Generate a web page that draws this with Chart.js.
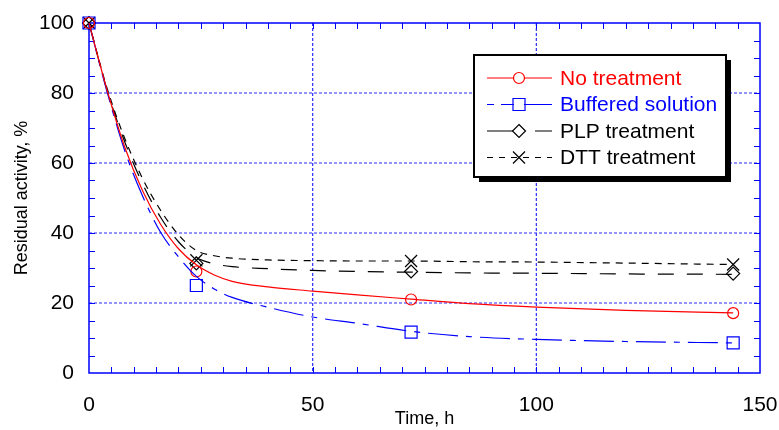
<!DOCTYPE html>
<html lang="en">
<head>
    <meta charset="UTF-8">
    <title>Residual activity vs time</title>
    <style>
        body {
            margin: 0;
            background: #fff;
        }
        #wrap {
            width: 779px;
            height: 430px;
        }
    </style>
</head>
<body>
    <div id="wrap"><canvas id="activityChart" width="779" height="430"></canvas></div>

    <script src="https://cdn.jsdelivr.net/npm/chart.js"></script>
    <script>
        // Measured points
        const seriesNames = ['No treatment', 'Buffered solution', 'PLP treatment', 'DTT treatment'];
        const sampleTimes = [0, 24, 72, 144];
        const noTreatment = [100, 29, 21, 17.1];
        const buffered = [100, 25, 11.7, 8.6];
        const plpTreatment = [100, 31.3, 29, 28.4];
        const dttTreatment = [100, 32.2, 32, 31];

        // Fitted curves
        const fitTimes = [0, 4, 8, 12, 16, 20, 24, 28, 32, 40, 50, 60, 72, 85, 100, 120, 144];
        const noTreatmentFit = [100, 81, 64.5, 52, 42.5, 35.5, 30.9, 28, 26.2, 24.6, 23.4, 22.3, 21.1, 19.8, 18.8, 17.9, 17.2];
        const bufferedFit = [100, 80.5, 63.5, 50.5, 40.2, 33.2, 27.6, 24, 21.6, 18.8, 16, 14.2, 11.9, 10.4, 9.6, 9.0, 8.6];
        const plpFit = [100, 81, 66, 54, 44.5, 37.5, 33, 31.2, 30.4, 29.8, 29.3, 29, 28.8, 28.6, 28.5, 28.3, 28.2];
        const dttFit = [100, 81.5, 67, 55.5, 46.5, 39.5, 35, 33.5, 32.8, 32.3, 32.1, 32, 32, 31.8, 31.7, 31.4, 31.0];

        // Axis ticks
        const xTicks = [0, 50, 100, 150];
        const yTicks = [0, 20, 40, 60, 80, 100];

        const toXY = (xs, ys) => xs.map((x, i) => ({ x: x, y: ys[i] }));

        // legendDash: how the short sample in the legend box is broken up
        const styles = [
            { color: '#ff0000', dash: [], legendDash: [], marker: 'circle', radius: 5.5 },
            { color: '#0000ff', dash: [30, 8, 6, 8], legendDash: [7, 7, 60], marker: 'rect', radius: 8.5 },
            { color: '#000000', dash: [16, 13], legendDash: [26, 22, 20], marker: 'rectRot', radius: 6.5 },
            { color: '#000000', dash: [7, 6], legendDash: [6, 6], marker: 'crossRot', radius: 8.5 }
        ];
        const pointSets = [noTreatment, buffered, plpTreatment, dttTreatment];
        const fitSets = [noTreatmentFit, bufferedFit, plpFit, dttFit];

        const datasets = [];
        fitSets.forEach((fit, i) => {
            datasets.push({
                label: seriesNames[i] + ' fit',
                data: toXY(fitTimes, fit),
                showLine: true,
                borderColor: styles[i].color,
                borderWidth: 1.2,
                borderDash: styles[i].dash,
                pointRadius: 0,
                cubicInterpolationMode: 'monotone',
                clip: false
            });
        });
        pointSets.forEach((pts, i) => {
            datasets.push({
                label: seriesNames[i],
                data: toXY(sampleTimes, pts),
                showLine: false,
                pointStyle: styles[i].marker,
                pointRadius: styles[i].radius,
                pointBorderColor: styles[i].color,
                pointBackgroundColor: 'rgba(0,0,0,0)',
                pointBorderWidth: 1.2,
                clip: false
            });
        });

        // dotted grid, blue frame and inward ticks
        const plotFrame = {
            id: 'plotFrame',
            beforeDatasetsDraw(chart) {
                const ctx = chart.ctx;
                const a = chart.chartArea;
                const xs = chart.scales.x;
                const ys = chart.scales.y;
                ctx.save();
                ctx.strokeStyle = '#2a2aff';
                ctx.lineWidth = 1.2;
                ctx.setLineDash([3, 2]);
                xTicks.slice(1, -1).forEach(v => {
                    const px = xs.getPixelForValue(v);
                    ctx.beginPath();
                    ctx.moveTo(px, a.top);
                    ctx.lineTo(px, a.bottom);
                    ctx.stroke();
                });
                yTicks.slice(1, -1).forEach(v => {
                    const py = ys.getPixelForValue(v);
                    ctx.beginPath();
                    ctx.moveTo(a.left, py);
                    ctx.lineTo(a.right, py);
                    ctx.stroke();
                });
                ctx.setLineDash([]);
                ctx.strokeStyle = '#0000ff';
                ctx.lineWidth = 1.5;
                ctx.strokeRect(a.left, a.top, a.right - a.left, a.bottom - a.top);
                ctx.lineWidth = 1;
                const len = 6;
                for (let v = 5; v < 150; v += 5) {
                    const px = Math.round(xs.getPixelForValue(v)) + 0.5;
                    ctx.beginPath();
                    ctx.moveTo(px, a.bottom);
                    ctx.lineTo(px, a.bottom - len);
                    ctx.moveTo(px, a.top);
                    ctx.lineTo(px, a.top + len);
                    ctx.stroke();
                }
                for (let v = 5; v < 100; v += 5) {
                    const py = Math.round(ys.getPixelForValue(v)) + 0.5;
                    ctx.beginPath();
                    ctx.moveTo(a.left, py);
                    ctx.lineTo(a.left + len, py);
                    ctx.moveTo(a.right, py);
                    ctx.lineTo(a.right - len, py);
                    ctx.stroke();
                }
                ctx.restore();
            }
        };

        function drawMarker(ctx, style, x, y) {
            const r = style.radius;
            ctx.beginPath();
            if (style.marker === 'circle') {
                ctx.arc(x, y, r, 0, Math.PI * 2);
            } else if (style.marker === 'rect') {
                const s = r * Math.SQRT1_2;
                ctx.rect(x - s, y - s, 2 * s, 2 * s);
            } else if (style.marker === 'rectRot') {
                ctx.moveTo(x, y - r);
                ctx.lineTo(x + r, y);
                ctx.lineTo(x, y + r);
                ctx.lineTo(x - r, y);
                ctx.closePath();
            } else {
                const s = r * Math.SQRT1_2;
                ctx.moveTo(x - s, y - s);
                ctx.lineTo(x + s, y + s);
                ctx.moveTo(x + s, y - s);
                ctx.lineTo(x - s, y + s);
            }
            ctx.stroke();
        }

        // boxed legend with a drop shadow
        const boxLegend = {
            id: 'boxLegend',
            afterDraw(chart) {
                const ctx = chart.ctx;
                const bx = 474, by = 55, bw = 252, bh = 122;
                ctx.save();
                ctx.fillStyle = '#000';
                ctx.fillRect(bx + 5, by + 5, bw, bh);
                ctx.fillStyle = '#fff';
                ctx.fillRect(bx, by, bw, bh);
                ctx.strokeStyle = '#000';
                ctx.lineWidth = 2;
                ctx.strokeRect(bx, by, bw, bh);
                ctx.font = '21px "Liberation Sans", Arial, sans-serif';
                ctx.textBaseline = 'middle';
                seriesNames.forEach((name, i) => {
                    const y = 78 + i * 26.5;
                    const st = styles[i];
                    ctx.strokeStyle = st.color;
                    ctx.lineWidth = 1.2;
                    ctx.setLineDash(st.legendDash);
                    ctx.beginPath();
                    ctx.moveTo(487, y);
                    ctx.lineTo(552, y);
                    ctx.stroke();
                    ctx.setLineDash([]);
                    ctx.fillStyle = '#fff';
                    if (st.marker !== 'crossRot') {
                        ctx.beginPath();
                        ctx.arc(519, y, 5, 0, Math.PI * 2);
                        ctx.fill();
                    }
                    drawMarker(ctx, st, 519, y);
                    ctx.fillStyle = st.color;
                    ctx.fillText(name, 560, y + 1);
                });
                ctx.restore();
            }
        };

        const tickFont = { family: '"Liberation Sans", Arial, sans-serif', size: 21 };
        const titleFont = { family: '"Liberation Sans", Arial, sans-serif', size: 18 };

        new Chart(document.getElementById('activityChart').getContext('2d'), {
            type: 'scatter',
            data: { datasets: datasets },
            options: {
                responsive: false,
                animation: false,
                devicePixelRatio: 1,
                layout: { padding: { top: 23, right: 19, left: 0, bottom: 0 } },
                plugins: {
                    legend: { display: false },
                    tooltip: { enabled: false }
                },
                scales: {
                    x: {
                        type: 'linear',
                        min: 0,
                        max: 150,
                        afterBuildTicks: s => { s.ticks = xTicks.map(v => ({ value: v })); },
                        afterFit: s => { s.height = 57; s.paddingLeft = 0; s.paddingRight = 0; },
                        grid: { display: false, drawTicks: false },
                        border: { display: false },
                        ticks: { font: tickFont, color: '#000', padding: 20, maxRotation: 0 },
                        title: { display: true, text: 'Time, h', font: titleFont, color: '#000', padding: 0 }
                    },
                    y: {
                        type: 'linear',
                        min: 0,
                        max: 100,
                        afterBuildTicks: s => { s.ticks = yTicks.map(v => ({ value: v })); },
                        afterFit: s => { s.width = 89; s.paddingTop = 0; s.paddingBottom = 0; },
                        grid: { display: false, drawTicks: false },
                        border: { display: false },
                        ticks: { font: tickFont, color: '#000', padding: 15 },
                        title: { display: true, text: 'Residual activity, %', font: titleFont, color: '#000', padding: { top: 11 } }
                    }
                }
            },
            plugins: [plotFrame, boxLegend]
        });
    </script>
</body>
</html>
